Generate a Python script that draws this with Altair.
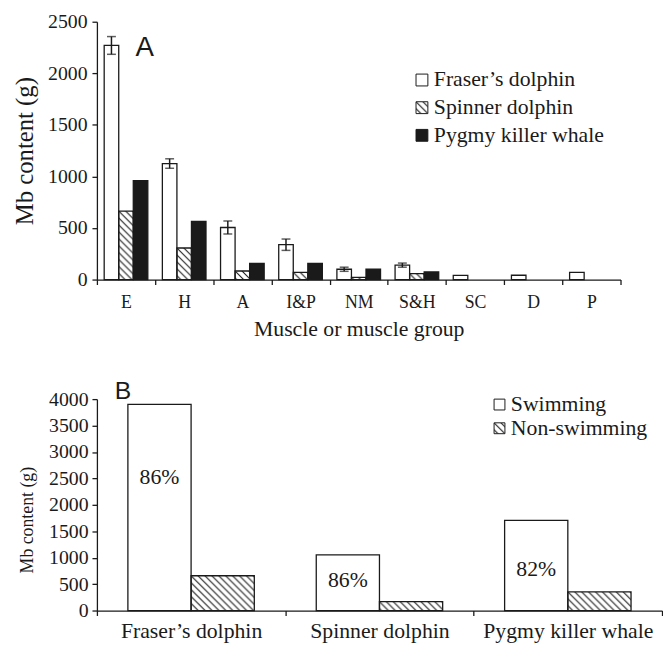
import altair as alt
import pandas as pd
from urllib.parse import quote

# ---------------- data ----------------
muscles = ["E", "H", "A", "I&P", "NM", "S&H", "SC", "D", "P"]
species = ["Fraser’s dolphin", "Spinner dolphin", "Pygmy killer whale"]
fraser = [2270, 1125, 505, 338, 100, 140, 40, 42, 70]
spinner = [664, 306, 83, 70, 22, 57, 0, 0, 0]
pygmy = [958, 565, 156, 156, 102, 74, 0, 0, 0]
fraser_err = [86, 46, 63, 55, 20, 20, 0, 0, 0]

groups_b = ["Fraser’s dolphin", "Spinner dolphin", "Pygmy killer whale"]
kinds = ["Swimming", "Non-swimming"]
swimming = [3900, 1055, 1707]
non_swimming = [658, 168, 354]
swim_pct = ["86%", "86%", "82%"]
pct_label_at = [2530, 570, 790]

SERIF = "Liberation Serif"
SANS = "Liberation Sans"
INK = "#1a1a1a"

hatch_svg = ('<svg xmlns="http://www.w3.org/2000/svg" width="100%" height="100%">'
             '<defs><pattern id="h" patternUnits="userSpaceOnUse" width="7" height="7">'
             '<path d="M0,0L7,7M-1,6L1,8M6,-1L8,1" stroke="#1a1a1a" stroke-width="1.1"/>'
             '</pattern></defs><rect width="100%" height="100%" fill="url(#h)"/></svg>')
HATCH = "data:image/svg+xml;charset=utf-8," + quote(hatch_svg)

one = alt.InlineData(values=[{"k": 0}])

WA, HA = 530, 261
WB, HB = 572, 214


def legend_layers(names, fills, hatched, x0, top0, dy, size, tx, base0):
    layers = []
    for i, (name, fill, h) in enumerate(zip(names, fills, hatched)):
        top = top0 + dy * i
        if h:
            layers.append(alt.Chart(one).mark_image(aspect=False).encode(
                url=alt.value(HATCH), x=alt.value(x0), x2=alt.value(x0 + size),
                y=alt.value(top), y2=alt.value(top + size)))
        layers.append(alt.Chart(one).mark_rect(fill=fill, stroke=INK, strokeWidth=1).encode(
            x=alt.value(x0), x2=alt.value(x0 + size), y=alt.value(top), y2=alt.value(top + size)))
        layers.append(alt.Chart(one).mark_text(font=SERIF, fontSize=22, align="left",
                                               baseline="alphabetic", color=INK).encode(
            x=alt.value(tx), y=alt.value(base0 + dy * i), text=alt.value(name)))
    return layers


# ---------------- panel A ----------------
dfa = pd.DataFrame({
    "muscle": muscles * 3,
    "species": [s for s in species for _ in muscles],
    "value": fraser + spinner + pygmy,
})
dfa = dfa[dfa["value"] > 0]
dferr = pd.DataFrame({"muscle": muscles, "species": species[0], "value": fraser, "err": fraser_err})
dferr = dferr[dferr["err"] > 0].copy()
dferr["lo"] = dferr["value"] - dferr["err"]
dferr["hi"] = dferr["value"] + dferr["err"]

axisAx = alt.Axis(title="Muscle or muscle group", tickBand="extent", labelAngle=0,
                  labelFontSize=18, titleFontSize=22, labelPadding=9, titlePadding=8,
                  labelOverlap=False)
scaleAx = alt.Scale(type="band", domain=muscles, paddingInner=0, paddingOuter=0)
xA = alt.X("muscle:N", scale=scaleAx, axis=axisAx)
xoffA = alt.XOffset("species:N", scale=alt.Scale(type="band", domain=species,
                                                 paddingInner=0, paddingOuter=0.5))
axisAy = alt.Axis(title="Mb content (g)", values=[0, 500, 1000, 1500, 2000, 2500], format="d",
                  labelFontSize=20, titleFontSize=25, labelPadding=5, titlePadding=10)
scaleAy = alt.Scale(domain=[0, 2500], nice=False)


def yA(f):
    return alt.Y(f, scale=scaleAy, axis=axisAy)


hatchA = alt.Chart(dfa).transform_filter(
    alt.FieldEqualPredicate(field="species", equal=species[1])
).mark_image(aspect=False).encode(
    x=xA, xOffset=xoffA, y=yA("value:Q"), y2=alt.datum(0), url=alt.value(HATCH))

barsA = alt.Chart(dfa).mark_bar(stroke=INK, strokeWidth=1.3).encode(
    x=xA, xOffset=xoffA, y=yA("value:Q"),
    fill=alt.Fill("species:N", scale=alt.Scale(domain=species, range=["white", "transparent", INK]),
                  legend=None))

errRule = alt.Chart(dferr).mark_rule(color=INK, strokeWidth=1.5).encode(
    x=xA, xOffset=xoffA, y=yA("lo:Q"), y2="hi:Q")
errLo = alt.Chart(dferr).mark_tick(orient="horizontal", size=9, thickness=1.5, color=INK).encode(
    x=xA, xOffset=xoffA, y=yA("lo:Q"))
errHi = alt.Chart(dferr).mark_tick(orient="horizontal", size=9, thickness=1.5, color=INK).encode(
    x=xA, xOffset=xoffA, y=yA("hi:Q"))

letterA = alt.Chart(one).mark_text(font=SANS, fontSize=28, align="left", baseline="alphabetic",
                                   color=INK).encode(x=alt.value(39), y=alt.value(35), text=alt.value("A"))

legA = legend_layers(species, ["white", "transparent", INK], [False, True, False],
                     323, 53, 28, 12, 341, 65.5)

chartA = alt.layer(hatchA, barsA, errRule, errLo, errHi, letterA, *legA).properties(width=WA, height=HA)

# ---------------- panel B ----------------
dfb = pd.DataFrame({
    "group": groups_b * 2,
    "kind": [kinds[0]] * 3 + [kinds[1]] * 3,
    "value": swimming + non_swimming,
})
dflab = pd.DataFrame({"group": groups_b, "kind": kinds[0], "pos": pct_label_at, "label": swim_pct})

axisBx = alt.Axis(title=None, tickBand="extent", labelAngle=0, labelFontSize=22, labelPadding=5,
                  labelLimit=400, labelOverlap=False)
xB = alt.X("group:N", scale=alt.Scale(type="band", domain=groups_b, paddingInner=0, paddingOuter=0),
           axis=axisBx)
xoffB = alt.XOffset("kind:N", scale=alt.Scale(type="band", domain=kinds,
                                              paddingInner=0, paddingOuter=0.49))
axisBy = alt.Axis(title="Mb content (g)", values=list(range(0, 4001, 500)), format="d", labelFontSize=20,
                  titleFontSize=18, labelPadding=4, titlePadding=12, titleY=122)
scaleBy = alt.Scale(domain=[0, 4000], nice=False)


def yB(f):
    return alt.Y(f, scale=scaleBy, axis=axisBy)


hatchB = alt.Chart(dfb).transform_filter(
    alt.FieldEqualPredicate(field="kind", equal=kinds[1])
).mark_image(aspect=False).encode(
    x=xB, xOffset=xoffB, y=yB("value:Q"), y2=alt.datum(0), url=alt.value(HATCH))

barsB = alt.Chart(dfb).mark_bar(stroke=INK, strokeWidth=1.3).encode(
    x=xB, xOffset=xoffB, y=yB("value:Q"),
    fill=alt.Fill("kind:N", scale=alt.Scale(domain=kinds, range=["white", "transparent"]), legend=None))

pctB = alt.Chart(dflab).mark_text(font=SERIF, fontSize=22, baseline="middle", color=INK).encode(
    x=xB, xOffset=xoffB, y=yB("pos:Q"), text="label:N")

letterB = alt.Chart(one).mark_text(font=SANS, fontSize=25, align="left", baseline="alphabetic",
                                   color=INK).encode(x=alt.value(18), y=alt.value(0), text=alt.value("B"))

legB = legend_layers(kinds, ["white", "transparent"], [False, True], 402, 0, 24, 11, 419, 12)

chartB = alt.layer(hatchB, barsB, pctB, letterB, *legB).properties(width=WB, height=HB)

chart = alt.vconcat(chartA, chartB, spacing=40).resolve_scale(
    xOffset="independent", fill="independent", x="independent", y="independent"
).configure_view(stroke=None).configure_axis(
    grid=False, domainColor=INK, tickColor=INK, domainWidth=1.3, tickWidth=1.3, tickSize=5,
    labelColor=INK, titleColor=INK, labelFont=SERIF, titleFont=SERIF, titleFontWeight="normal"
).configure_text(font=SERIF).properties(
    padding={"left": 5, "top": 0, "right": 0, "bottom": 0}, background="white")

chart.save("out.html", embed_options={"renderer": "svg", "actions": False})
